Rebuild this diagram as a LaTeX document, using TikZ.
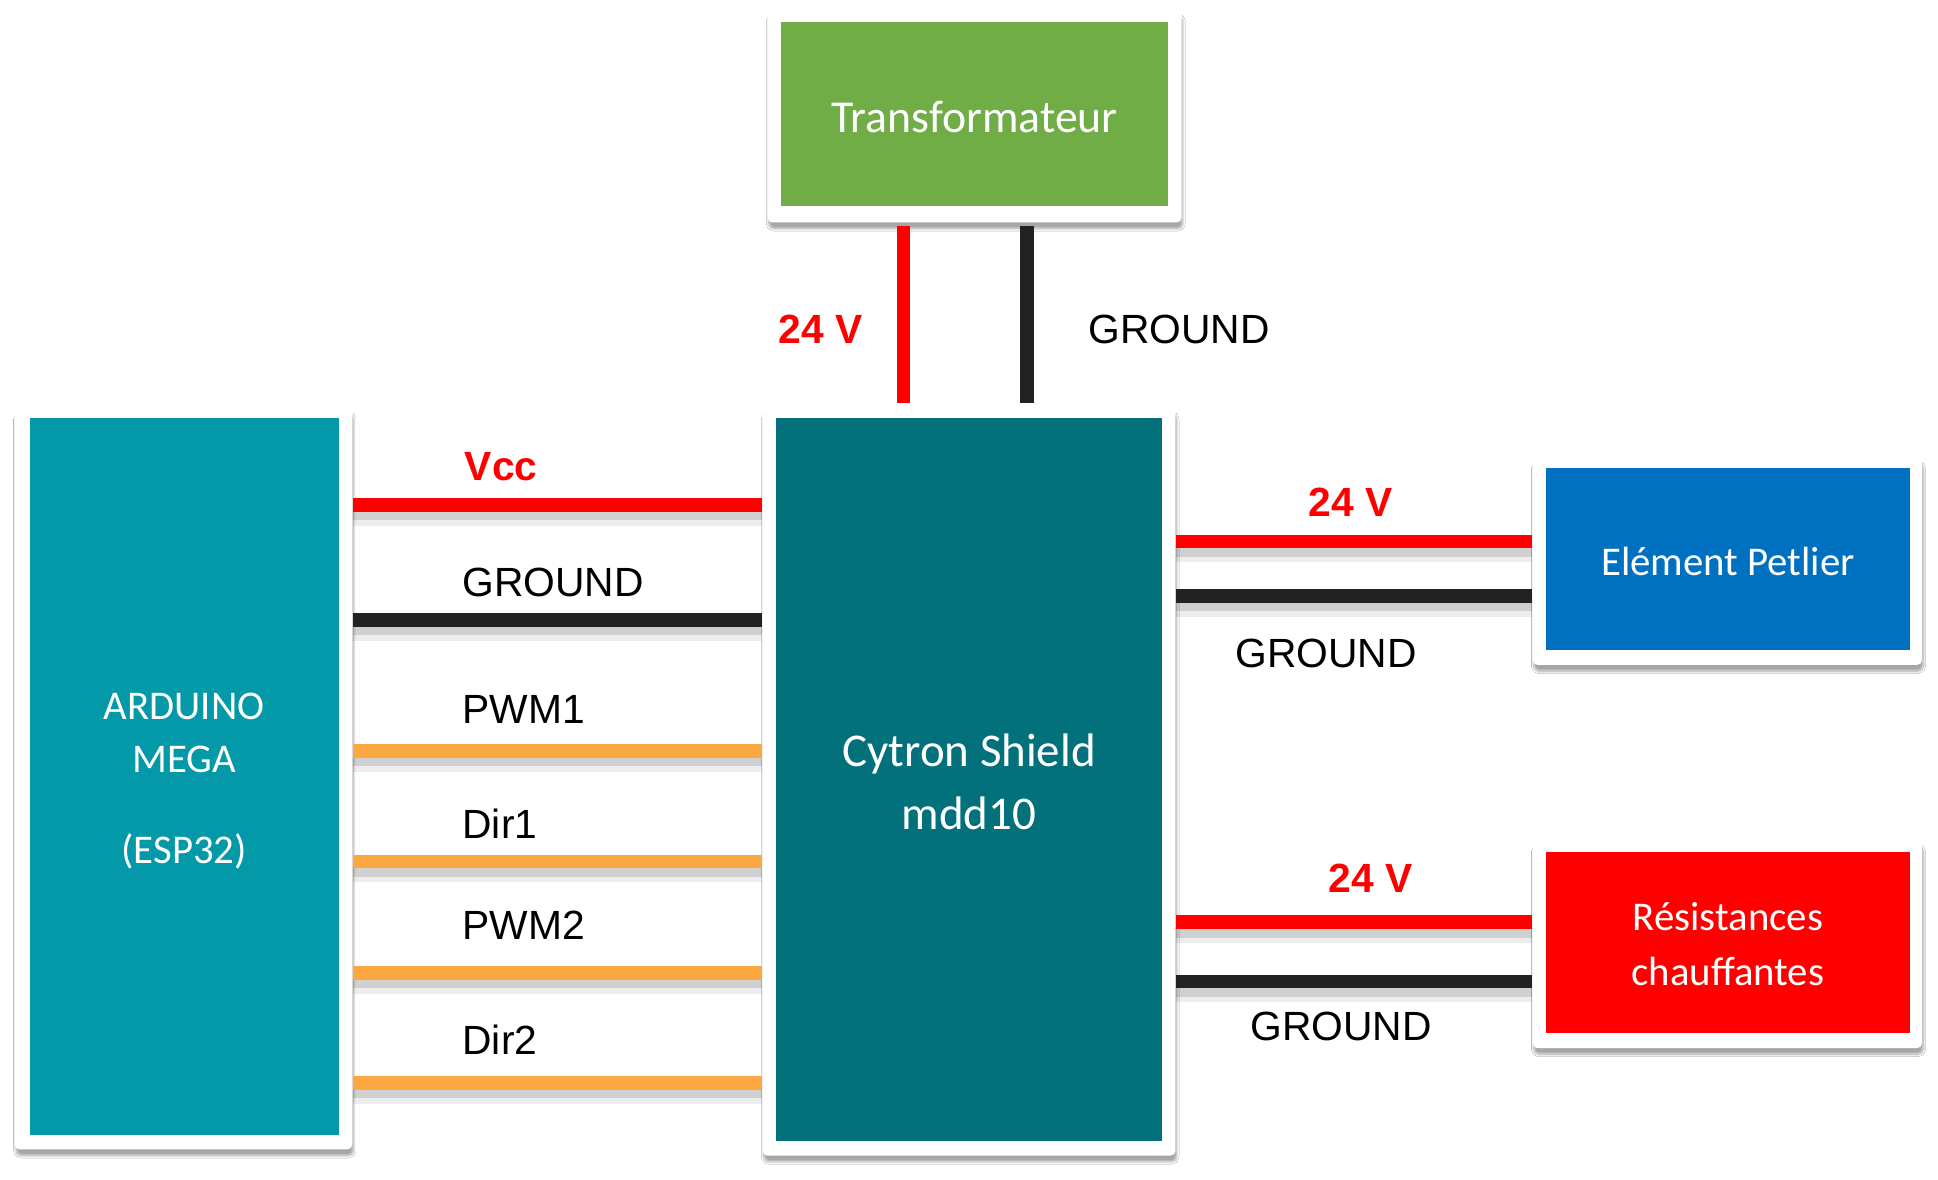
\documentclass[tikz,border=0pt]{standalone}
\usepackage{fontspec}
\setmainfont{Carlito}
\newfontfamily\arialfont{Liberation Sans}
\usetikzlibrary{shadows.blur}
\definecolor{trgreen}{HTML}{70AD47}
\definecolor{ardteal}{HTML}{0399A8}
\definecolor{cytteal}{HTML}{02717C}
\definecolor{petblue}{HTML}{0070C0}
\definecolor{resred}{HTML}{FF0000}
\definecolor{wred}{HTML}{FF0000}
\definecolor{wblack}{HTML}{222222}
\definecolor{worange}{HTML}{FBA843}
\tikzset{
  frame/.style={draw=none, fill=white, rounded corners=4pt, inner sep=0pt,
    blur shadow={shadow blur steps=10, shadow xshift=1pt, shadow yshift=-5pt, shadow opacity=35, shadow blur extra rounding=3pt}},
  inbox/.style={draw=none, inner sep=0pt},
  intext/.style={inner sep=0pt, text=white, align=center},
  wire/.style={line width=11pt,
    preaction={draw=black, opacity=0.07, line width=16pt, transform canvas={yshift=-9pt}},
    preaction={draw=black, opacity=0.12, line width=9pt, transform canvas={yshift=-8pt}}},
  vwire/.style={line width=11pt},
  lbl/.style={inner sep=0pt, font=\arialfont\fontsize{33}{40}\selectfont, text=black},
  lblred/.style={inner sep=0pt, font=\arialfont\bfseries\fontsize{33}{40}\selectfont, text=wred},
}
\begin{document}
\begin{tikzpicture}[x=1pt, y=-1pt]
\useasboundingbox (0,0) rectangle (1568,954);
\fill[white] (0,0) rectangle (1568,954);
% frames
\node[frame, minimum width=335pt, minimum height=172pt] (trF) at (788.5,94) {};
\node[frame, minimum width=273pt, minimum height=600pt] (ardF) at (148.5,630) {};
\node[frame, minimum width=334pt, minimum height=605pt] (cytF) at (784,632.5) {};
\node[frame, minimum width=315pt, minimum height=168pt] (petF) at (1397.5,454) {};
\node[frame, minimum width=315pt, minimum height=168pt] (resF) at (1397.5,764) {};
% inner boxes
\node[inbox, fill=trgreen, minimum width=313pt, minimum height=149pt] (tr) at (788.5,92.5) {};
\node[inbox, fill=ardteal, minimum width=250pt, minimum height=580pt] (ard) at (149,628) {};
\node[inbox, fill=cytteal, minimum width=312pt, minimum height=585pt] (cyt) at (784,630.5) {};
\node[inbox, fill=petblue, minimum width=294pt, minimum height=147pt] (pet) at (1398,452.5) {};
\node[inbox, fill=resred, minimum width=294pt, minimum height=147pt] (res) at (1398,762.5) {};
% texts in boxes
\node[intext, font=\fontsize{37}{44}\selectfont] (trT) at (788.5,94.5) {Transformateur};
\node[intext, font=\fontsize{33}{43}\selectfont] (ardT) at (149,632) {ARDUINO\\MEGA\\[31pt](ESP32)};
\node[intext, font=\fontsize{38}{51}\selectfont] (cytT) at (784,632.5) {Cytron Shield\\mdd10};
\node[intext, font=\fontsize{33}{44}\selectfont] (petT) at (1398,454.5) {Elément Petlier};
\node[intext, font=\fontsize{33}{44}\selectfont] (resT) at (1398,764) {Résistances\\chauffantes};
% vertical wires
\draw[vwire, wred, shorten <=3pt, shorten >=4pt] (trF.south -| 731,0) -- (cytF.north -| 731,0);
\draw[vwire, wblack, shorten <=3pt, shorten >=4pt] (trF.south -| 831,0) -- (cytF.north -| 831,0);
% left wires
\draw[wire, wred] (ardF.east |- 0,408.5) -- (cytF.west |- 0,408.5);
\draw[wire, wblack] (ardF.east |- 0,501.5) -- (cytF.west |- 0,501.5);
\draw[wire, worange] (ardF.east |- 0,607.5) -- (cytF.west |- 0,607.5);
\draw[wire, worange] (ardF.east |- 0,697) -- (cytF.west |- 0,697);
\draw[wire, worange] (ardF.east |- 0,787) -- (cytF.west |- 0,787);
\draw[wire, worange] (ardF.east |- 0,876) -- (cytF.west |- 0,876);
% right wires
\draw[wire, wred] (cytF.east |- 0,438) -- (petF.west |- 0,438);
\draw[wire, wblack] (cytF.east |- 0,482) -- (petF.west |- 0,482);
\draw[wire, wred] (cytF.east |- 0,746) -- (resF.west |- 0,746);
\draw[wire, wblack] (cytF.east |- 0,794) -- (resF.west |- 0,794);
% labels
\node[lblred, anchor=base] (l24a) at (664,278) {24 V};
\node[lbl, anchor=base] (lgnda) at (954,278) {GROUND};
\node[lblred, anchor=base west] (lvcc) at (376,389) {Vcc};
\node[lbl, anchor=base west] (lgndb) at (374,483) {GROUND};
\node[lbl, anchor=base west] (lpwm1) at (374,585) {PWM1};
\node[lbl, anchor=base west] (ldir1) at (374,678) {Dir1};
\node[lbl, anchor=base west] (lpwm2) at (374,760) {PWM2};
\node[lbl, anchor=base west] (ldir2) at (374,853) {Dir2};
\node[lblred, anchor=base] (l24b) at (1093,418) {24 V};
\node[lbl, anchor=base] (lgndc) at (1073,540) {GROUND};
\node[lblred, anchor=base] (l24c) at (1109,722) {24 V};
\node[lbl, anchor=base] (lgndd) at (1085,842) {GROUND};
\end{tikzpicture}
\end{document}
